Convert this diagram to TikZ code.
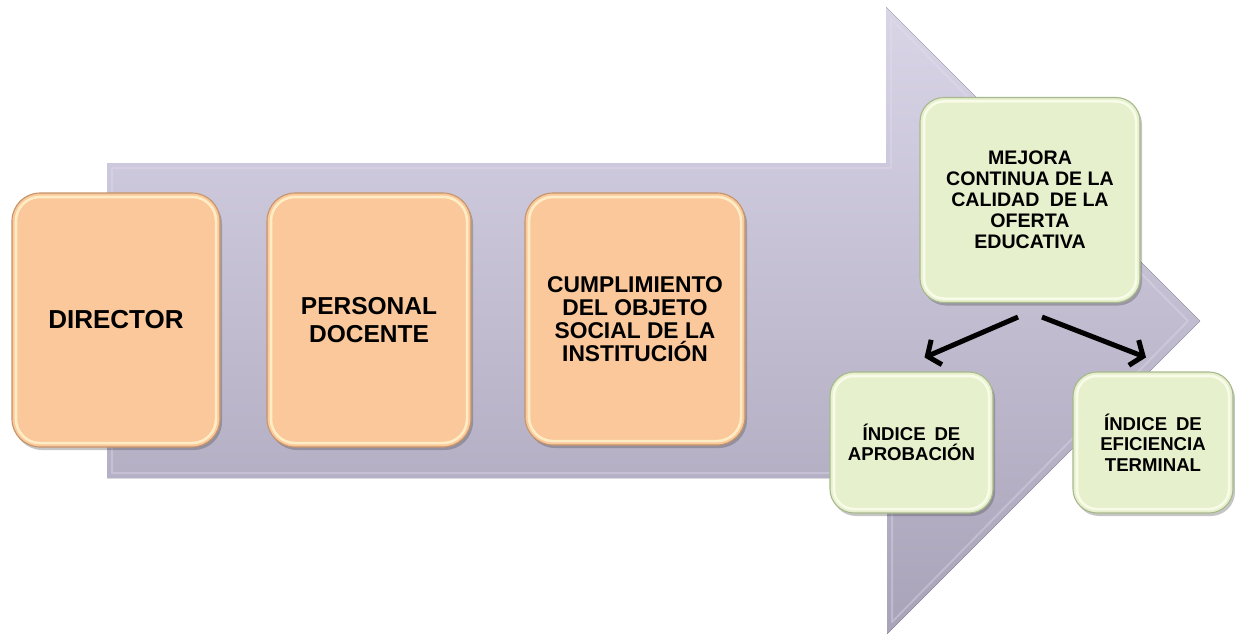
\documentclass[tikz,border=0pt]{standalone}
\usepackage{fontspec}
\setmainfont{Liberation Sans}
\usetikzlibrary{shadows,arrows.meta,calc}

\definecolor{peach}{HTML}{FAC89A}
\definecolor{peachedge}{HTML}{C4946A}
\definecolor{peachglow}{HTML}{FFF3CC}
\definecolor{sage}{HTML}{E6F0CC}
\definecolor{sageedge}{HTML}{A8B88E}
\definecolor{sageglow}{HTML}{FAFEEC}
\definecolor{lavtop}{HTML}{D9D5E7}
\definecolor{lavbot}{HTML}{A9A3B9}
\definecolor{lavglow}{HTML}{E4E0EE}

\tikzset{
  card/.style={rounded corners=#1, line width=1.1pt, align=center,
    font=\bfseries, inner sep=0pt,
    drop shadow={shadow xshift=2pt, shadow yshift=-3pt, opacity=0.3, fill=black!75}},
  orangecard/.style={card=28pt, draw=peachedge, fill=peach},
  greencard/.style={card=24pt, draw=sageedge, fill=sage},
  glow/.style={line width=2.6pt, opacity=0.85, rounded corners=#1},
  connector/.style={line width=5pt, -{Straight Barb[length=10pt,width=27pt]}},
  hugefont/.style={font=\bfseries\fontsize{26}{29}\selectfont},
  bigfont/.style={font=\bfseries\fontsize{24.5}{28.5}\selectfont},
  midfont/.style={font=\bfseries\fontsize{22.8}{23}\selectfont},
  headfont/.style={font=\bfseries\fontsize{19.6}{21}\selectfont},
  smallfont/.style={font=\bfseries\fontsize{18.6}{20.5}\selectfont},
}

% light inner rim that gives the cards their bevelled look
\newcommand\cardrim[3]{%
  \draw[glow=#3, draw=#2] ([shift={(4.5pt,-4.5pt)}]#1.north west)
    rectangle ([shift={(-4.5pt,4.5pt)}]#1.south east);}

\begin{document}
\begin{tikzpicture}[x=1pt,y=-1pt]
\useasboundingbox (0,0) rectangle (1235,634);

% broad process arrow in the background
\fill[top color=lavtop, bottom color=lavbot]
  (107,163) -- (886,163) -- (886,7) -- (1200,321) -- (887,634)
  -- (887,478) -- (107,478) -- cycle;
\draw[lavglow, line width=2pt, opacity=0.35, line join=round]
  (112,168) -- (891,168) -- (891,19) -- (1188,321) -- (892,622)
  -- (892,473) -- (112,473) -- cycle;

% stages along the arrow
\node[orangecard, hugefont, minimum width=208pt, minimum height=254pt]
  (director) at (116,320) {DIRECTOR};
\cardrim{director}{peachglow}{24pt}
\node[orangecard, bigfont, minimum width=204pt, minimum height=254pt]
  (docente) at (369,320) {PERSONAL\\DOCENTE};
\cardrim{docente}{peachglow}{24pt}
\node[orangecard, midfont, minimum width=220pt, minimum height=252pt]
  (objeto) at (635,319) {CUMPLIMIENTO\\DEL OBJETO\\SOCIAL DE LA\\INSTITUCIÓN};
\cardrim{objeto}{peachglow}{24pt}

% results at the arrow head
\node[greencard, headfont, minimum width=220pt, minimum height=205pt]
  (mejora) at (1030,200) {MEJORA\\CONTINUA DE LA\\CALIDAD\hspace{0.25em} DE LA\\OFERTA\\EDUCATIVA};
\cardrim{mejora}{sageglow}{20pt}
\node[greencard, smallfont, minimum width=163pt, minimum height=141pt]
  (aprobacion) at (911.5,442.5) {ÍNDICE\hspace{0.2em} DE\\APROBACIÓN};
\cardrim{aprobacion}{sageglow}{20pt}
\node[greencard, smallfont, minimum width=160pt, minimum height=141pt]
  (eficiencia) at (1153,442.5) {ÍNDICE\hspace{0.2em} DE\\EFICIENCIA\\TERMINAL};
\cardrim{eficiencia}{sageglow}{20pt}

% branching connectors
\draw[connector] ($(mejora.south)+(-12pt,-14pt)$) -- ($(aprobacion.north)+(13pt,14pt)$);
\draw[connector] ($(mejora.south)+(12pt,-14pt)$) -- ($(eficiencia.north)+(-7pt,14pt)$);
\end{tikzpicture}
\end{document}
